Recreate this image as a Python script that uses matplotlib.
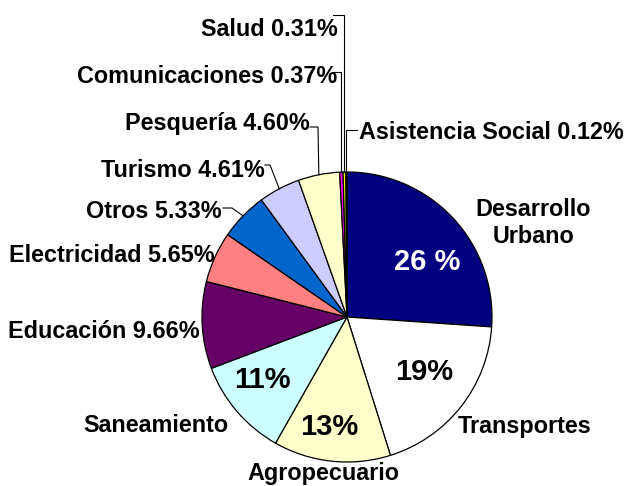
import numpy as np
import matplotlib.pyplot as plt

plt.rcParams['font.family'] = ['Liberation Sans', 'DejaVu Sans']

sectores = ['Desarrollo\nUrbano', 'Transportes', 'Agropecuario', 'Saneamiento',
            'Educación', 'Electricidad', 'Otros', 'Turismo', 'Pesquería',
            'Comunicaciones', 'Salud', 'Asistencia Social']
porcentajes = [26.0, 19.0, 13.0, 11.0, 9.66, 5.65, 5.33, 4.61, 4.60, 0.37, 0.31, 0.12]
etiquetas_pct = ['26 %', '19%', '13%', '11%', '9.66%', '5.65%', '5.33%', '4.61%',
                 '4.60%', '0.37%', '0.31%', '0.12%']
colores = ['#000080', '#FFFFFF', '#FFFFCC', '#CCFFFF', '#660066', '#FF8080',
           '#0066CC', '#CCCCFF', '#FFFFCC', '#FF00FF', '#FFFF00', '#00FFFF']

R = 145.0  # pie radius in pixels
cx, cy = 347, 317

def px(x, y):
    return (x - cx) / R, (cy - y) / R

fig = plt.figure(figsize=(6.26, 4.86), dpi=100)
ax = fig.add_axes([0, 0, 1, 1])
ax.axis('off')

wedges, _ = ax.pie(porcentajes, colors=colores, startangle=90, counterclock=False,
                   radius=1.0, wedgeprops=dict(edgecolor='black', linewidth=0.9))
ax.set_xlim(-cx / R, (626 - cx) / R)
ax.set_ylim(-(486 - cy) / R, cy / R)
ax.set_aspect('equal')

fs = 16.8
big = dict(fontsize=21, fontweight='bold', ha='center', va='baseline')
lab = dict(fontsize=fs, fontweight='bold', va='baseline')

# large slices: pct inside (center x, baseline y), name outside
inside = {0: (427, 270, 'white'), 1: (424, 380, 'black'), 2: (329, 435, 'black'), 3: (262, 388, 'black')}
for i, (x, y, c) in inside.items():
    ax.text(*px(x, y), etiquetas_pct[i], color=c, **big)

for j, line in enumerate(sectores[0].split('\n')):
    ax.text(*px(533, 216 + 27 * j), line, ha='center', **lab)
ax.text(*px(525, 433), sectores[1], ha='center', **lab)
ax.text(*px(323, 480), sectores[2], ha='center', **lab)
ax.text(*px(228, 432), sectores[3], ha='right', **lab)

# small slices: "name pct" ending at right x, baseline y
pos = {4: (200, 338), 5: (215, 262), 6: (222, 218), 7: (265, 177),
       8: (310, 130), 9: (337, 83), 10: (338, 36)}
for i, (x, y) in pos.items():
    ax.text(*px(x, y), f'{sectores[i]} {etiquetas_pct[i]}', ha='right', **lab)

ax.text(*px(359, 139), f'{sectores[11]} {etiquetas_pct[11]}', ha='left', **lab)

# leader lines
def mid_point(i):
    w = wedges[i]
    th = np.deg2rad((w.theta1 + w.theta2) / 2)
    return np.cos(th), np.sin(th)

lw = 0.8
# start x, y, corner x
leaders = {6: (223, 208, 232), 7: (265, 165, 270), 8: (310, 127, 318),
           9: (332, 72, 338), 10: (333, 15, 340), 11: (357, 130, 347)}
for i, (x0, y0, xc) in leaders.items():
    mx, my = mid_point(i)
    sx, sy = px(x0, y0)
    vx, _ = px(xc, y0)
    if i >= 9:
        vx = mx  # vertical drop onto the thin slices
    ax.plot([sx, vx, mx], [sy, sy, my], color='black', lw=lw)

fig.savefig('out.png', dpi=100)
